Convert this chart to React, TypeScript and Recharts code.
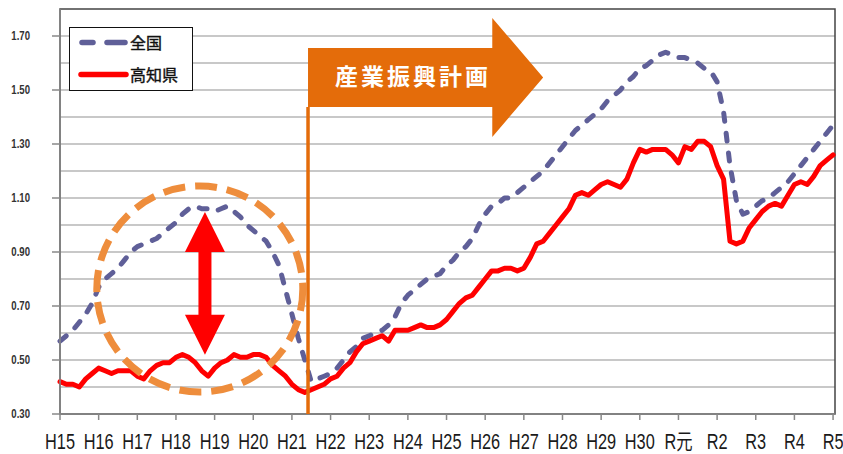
import React from 'react';
import {
  LineChart,
  Line,
  XAxis,
  YAxis,
  ReferenceLine,
  ReferenceArea,
  ReferenceDot,
  Legend,
} from 'recharts';

// Year labels (one tick per year, 6 data points per year = bi-monthly)
const YEAR_LABELS = [
  'H15', 'H16', 'H17', 'H18', 'H19', 'H20', 'H21', 'H22', 'H23', 'H24', 'H25',
  'H26', 'H27', 'H28', 'H29', 'H30', 'R元', 'R2', 'R3', 'R4', 'R5',
];
const POINTS_PER_YEAR = 6;

// 有効求人倍率 全国
const NATIONAL = [
  0.57, 0.59, 0.61, 0.64, 0.67, 0.71, 0.77, 0.80, 0.82, 0.84,
  0.87, 0.90, 0.92, 0.93, 0.94, 0.95, 0.97, 0.99, 1.01, 1.04,
  1.06, 1.07, 1.06, 1.06, 1.05, 1.06, 1.07, 1.05, 1.03, 1.00,
  0.98, 0.96, 0.94, 0.90, 0.85, 0.76, 0.67, 0.58, 0.50, 0.42,
  0.43, 0.44, 0.45, 0.47, 0.50, 0.53, 0.55, 0.58, 0.59, 0.60,
  0.61, 0.63, 0.66, 0.71, 0.74, 0.76, 0.78, 0.80, 0.81, 0.82,
  0.85, 0.87, 0.90, 0.92, 0.95, 1.00, 1.04, 1.07, 1.08, 1.10,
  1.10, 1.12, 1.14, 1.16, 1.18, 1.20, 1.23, 1.26, 1.29, 1.32,
  1.35, 1.37, 1.39, 1.41, 1.43, 1.46, 1.48, 1.50, 1.53, 1.55,
  1.58, 1.59, 1.61, 1.63, 1.64, 1.63, 1.62, 1.62, 1.61, 1.60,
  1.58, 1.57, 1.53, 1.42, 1.22, 1.09, 1.04, 1.05, 1.07, 1.09,
  1.10, 1.12, 1.14, 1.16, 1.19, 1.22, 1.25, 1.28, 1.31, 1.34,
  1.37,
];

// 有効求人倍率 高知県
const KOCHI = [
  0.42, 0.41, 0.41, 0.40, 0.43, 0.45, 0.47, 0.46, 0.45, 0.46,
  0.46, 0.46, 0.44, 0.43, 0.46, 0.48, 0.49, 0.49, 0.51, 0.52,
  0.51, 0.49, 0.46, 0.44, 0.47, 0.49, 0.50, 0.52, 0.51, 0.51,
  0.52, 0.52, 0.51, 0.48, 0.46, 0.44, 0.41, 0.39, 0.38, 0.39,
  0.40, 0.41, 0.43, 0.44, 0.47, 0.49, 0.53, 0.56, 0.57, 0.58,
  0.59, 0.57, 0.61, 0.61, 0.61, 0.62, 0.63, 0.62, 0.62, 0.63,
  0.65, 0.68, 0.71, 0.73, 0.74, 0.77, 0.80, 0.83, 0.83, 0.84,
  0.84, 0.83, 0.84, 0.88, 0.93, 0.94, 0.97, 1.00, 1.03, 1.06,
  1.11, 1.12, 1.11, 1.13, 1.15, 1.16, 1.15, 1.14, 1.17, 1.23,
  1.28, 1.27, 1.28, 1.28, 1.28, 1.26, 1.23, 1.29, 1.28, 1.31,
  1.31, 1.29, 1.22, 1.17, 0.94, 0.93, 0.94, 0.99, 1.02, 1.05,
  1.07, 1.08, 1.07, 1.11, 1.15, 1.16, 1.15, 1.18, 1.22, 1.24,
  1.26,
];

const Y_TICKS = [0.3, 0.5, 0.7, 0.9, 1.1, 1.3, 1.5, 1.7];
const GRID_VALUES = [0.4, 0.5, 0.6, 0.7, 0.8, 0.9, 1.0, 1.1, 1.2, 1.3, 1.4, 1.5, 1.6, 1.7];
const Y_DOMAIN = [0.3, 1.8];
const X_MAX = 120.3;

// Annotations (in data units)
const PLAN_LABEL = '産業振興計画';
const PLAN_START = 38.5;
const PLAN_NECK = 67.1;
const PLAN_TIP = 75.0;
const PLAN_BODY = [1.437, 1.656];
const PLAN_HEAD = [1.326, 1.767];
const CIRCLE_CENTER = { x: 21.7, y: 0.763 };
const GAP_ARROW = { x: 22.5, top: 1.048, bottom: 0.519 };

const SERIES = [
  { key: 'national', name: '全国', color: '#5f5f98', values: NATIONAL },
  { key: 'kochi', name: '高知県', color: '#ff0000', values: KOCHI },
];

const data = NATIONAL.map((_, i) => {
  const row: any = { i };
  SERIES.forEach((s) => {
    row[s.key] = s.values[i];
  });
  return row;
});

const xTicks = YEAR_LABELS.map((_, k) => k * POINTS_PER_YEAR);

const NUM_FONT = '"Liberation Sans", Arial, "Noto Sans CJK JP", sans-serif';
const JP_FONT = '"Noto Sans CJK JP", sans-serif';

const XTick = (props: any) => {
  const { x, y, payload } = props;
  const label = YEAR_LABELS[Math.round(payload.value / POINTS_PER_YEAR)];
  return (
    <g transform={`translate(${x},${y})`}>
      <text
        x={0}
        y={0}
        dy={27.5}
        textAnchor="middle"
        transform="scale(0.76,1)"
        fontSize={21.5}
        fill="#1a1a1a"
        fontFamily={NUM_FONT}
      >
        {label}
      </text>
    </g>
  );
};

const YTick = (props: any) => {
  const { x, y, payload } = props;
  return (
    <g transform={`translate(${x},${y})`}>
      <text
        x={0}
        y={0}
        dy={4}
        textAnchor="end"
        transform="scale(0.8,1)"
        fontSize={12}
        fontWeight="bold"
        fill="#333"
        fontFamily={NUM_FONT}
      >
        {payload.value.toFixed(2)}
      </text>
    </g>
  );
};

const PlanArrow = (props: any) => {
  const { x, y, width, height } = props;
  const span = PLAN_TIP - PLAN_START;
  const hSpan = PLAN_HEAD[1] - PLAN_HEAD[0];
  const neckX = x + ((PLAN_NECK - PLAN_START) / span) * width;
  const bodyTop = y + ((PLAN_HEAD[1] - PLAN_BODY[1]) / hSpan) * height;
  const bodyBot = y + ((PLAN_HEAD[1] - PLAN_BODY[0]) / hSpan) * height;
  const tipY = y + height / 2;
  const pts = [
    [x, bodyTop],
    [neckX, bodyTop],
    [neckX, y],
    [x + width, tipY],
    [neckX, y + height],
    [neckX, bodyBot],
    [x, bodyBot],
  ]
    .map((p) => p.join(','))
    .join(' ');
  return (
    <g>
      <polygon points={pts} fill="#e46c0a" />
      <text
        x={x + (neckX - x) * 0.57}
        y={(bodyTop + bodyBot) / 2 + 8}
        textAnchor="middle"
        fontSize={23}
        fontWeight="bold"
        letterSpacing={3}
        fill="#ffffff"
        fontFamily={JP_FONT}
      >
        {PLAN_LABEL}
      </text>
    </g>
  );
};

const GapArrow = (props: any) => {
  const { x1, y1, y2 } = props;
  const cx = x1;
  const top = Math.min(y1, y2);
  const bot = Math.max(y1, y2);
  const hw = 20;
  const hl = 40;
  const sw = 6.5;
  const pts = [
    [cx, top],
    [cx + hw, top + hl],
    [cx + sw, top + hl],
    [cx + sw, bot - hl],
    [cx + hw, bot - hl],
    [cx, bot],
    [cx - hw, bot - hl],
    [cx - sw, bot - hl],
    [cx - sw, top + hl],
    [cx - hw, top + hl],
  ]
    .map((p) => p.join(','))
    .join(' ');
  return <polygon points={pts} fill="#ff0000" />;
};

const LegendBox = (props: any) => {
  const payload = props.payload || [];
  const items = SERIES.map((s) => {
    const p = payload.find((e: any) => e.dataKey === s.key);
    return { name: p ? p.value : s.name, color: p ? p.color : s.color, key: s.key };
  });
  return (
    <div
      style={{
        width: 124,
        height: 64,
        border: '1.5px solid #111',
        background: '#fff',
        boxSizing: 'border-box',
      }}
    >
      <svg width={121} height={61} style={{ display: 'block' }}>
        {items.map((it, idx) => {
          const cy = idx === 0 ? 14.5 : 46.5;
          return (
            <g key={it.key}>
              {it.key === 'national' ? (
                <g stroke={it.color} strokeWidth={5.5} strokeLinecap="round">
                  <line x1={12} y1={cy} x2={23} y2={cy} />
                  <line x1={37} y1={cy} x2={55} y2={cy} />
                </g>
              ) : (
                <line x1={11} y1={cy} x2={56} y2={cy} stroke={it.color} strokeWidth={5.5} strokeLinecap="round" />
              )}
              <text
                x={60}
                y={cy + 6}
                fontSize={16}
                fill="#111"
                stroke="#111"
                strokeWidth={0.4}
                fontFamily={JP_FONT}
              >
                {it.name}
              </text>
            </g>
          );
        })}
      </svg>
    </div>
  );
};

export default function App() {
  const z: any = (n: number) => ({ zIndex: n });
  return (
    <div style={{ position: 'absolute', left: 0, top: 0, width: 843, height: 454, background: '#fff' }}>
      <LineChart width={843} height={454} data={data} margin={{ top: 9, right: 8, bottom: 0, left: 0 }}>
        <XAxis
          dataKey="i"
          type="number"
          domain={[0, X_MAX]}
          ticks={xTicks}
          interval={0}
          height={40}
          tickSize={6}
          tickMargin={2}
          tick={<XTick />}
          axisLine={{ stroke: '#888', strokeWidth: 1.5 }}
          tickLine={{ stroke: '#888', strokeWidth: 1.5 }}
        />
        <YAxis
          type="number"
          domain={Y_DOMAIN}
          ticks={Y_TICKS}
          interval={0}
          width={60}
          tickSize={8}
          tickMargin={22}
          tick={<YTick />}
          axisLine={{ stroke: '#888', strokeWidth: 1.5 }}
          tickLine={{ stroke: '#888', strokeWidth: 1.5 }}
        />
        {GRID_VALUES.map((v) => (
          <ReferenceLine key={`g${v}`} y={v} stroke="#c8c8c8" strokeWidth={2} {...z(-100)} />
        ))}
        <ReferenceArea
          x1={0}
          x2={X_MAX}
          y1={Y_DOMAIN[0]}
          y2={Y_DOMAIN[1]}
          fill="none"
          fillOpacity={0}
          stroke="#444"
          strokeWidth={1.5}
          {...z(-90)}
        />
        <Line
          dataKey="national"
          name="全国"
          stroke="#5f5f98"
          strokeWidth={5}
          strokeDasharray="8 12"
          strokeLinecap="round"
          strokeLinejoin="round"
          dot={false}
          activeDot={false}
          isAnimationActive={false}
        />
        <Line
          dataKey="kochi"
          name="高知県"
          stroke="#ff0000"
          strokeWidth={5}
          strokeLinecap="round"
          strokeLinejoin="round"
          dot={false}
          activeDot={false}
          isAnimationActive={false}
        />
        <ReferenceDot
          x={CIRCLE_CENTER.x}
          y={CIRCLE_CENTER.y}
          r={103}
          fill="none"
          stroke="#ee8d3c"
          strokeWidth={7}
          strokeDasharray="22 10"
          {...z(900)}
        />
        <ReferenceLine
          segment={[
            { x: PLAN_START, y: Y_DOMAIN[0] },
            { x: PLAN_START, y: PLAN_BODY[0] },
          ]}
          stroke="#e46c0a"
          strokeWidth={3.5}
          {...z(900)}
        />
        <ReferenceArea
          x1={PLAN_START}
          x2={PLAN_TIP}
          y1={PLAN_HEAD[0]}
          y2={PLAN_HEAD[1]}
          shape={<PlanArrow />}
          {...z(900)}
        />
        <ReferenceLine
          segment={[
            { x: GAP_ARROW.x, y: GAP_ARROW.top },
            { x: GAP_ARROW.x, y: GAP_ARROW.bottom },
          ]}
          shape={(p: any) => <GapArrow {...p} />}
          {...z(950)}
        />
        <Legend
          layout="horizontal"
          verticalAlign="middle"
          align="center"
          content={<LegendBox />}
          wrapperStyle={{ position: 'absolute', left: 69, top: 27, width: 124, height: 64 }}
        />
      </LineChart>
    </div>
  );
}
